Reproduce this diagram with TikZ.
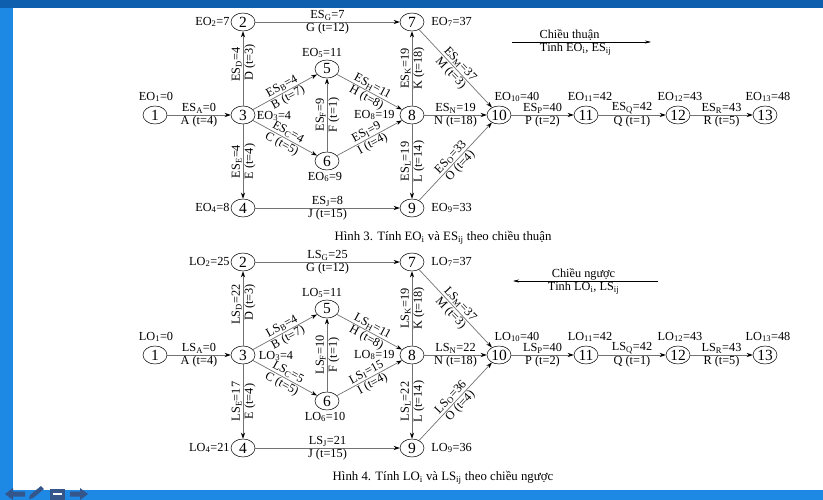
\documentclass[tikz,border=0pt]{standalone}
\usepackage{fontspec}
\setmainfont{Liberation Serif}
\usetikzlibrary{shapes.geometric,arrows.meta,positioning}
\newcommand\sbs[1]{\textsubscript{#1}}
\tikzset{
 nd/.style={ellipse, draw=black, line width=0.5pt, minimum width=24pt, minimum height=18pt, inner sep=0.2pt, font=\fontsize{15.5}{15.5}\selectfont},
 ed/.style={draw=black!55, line width=0.7pt, -{Stealth[length=6pt,width=4pt,color=black]}},
 edr/.style={draw=black!55, line width=0.7pt, {Stealth[length=6pt,width=4pt,color=black]}-},
 lab/.style={font=\fontsize{12.3}{12.5}\selectfont, inner sep=1pt},
 val/.style={font=\fontsize{12.3}{12.5}\selectfont, inner sep=1pt},
 captext/.style={font=\fontsize{12.8}{13}\selectfont, inner sep=0pt},
 dirline/.style={draw=black, line width=0.6pt},
 icon/.style={fill=navyicon, draw=none},
}
\definecolor{topbar}{HTML}{0F5FAF}
\definecolor{sidebar}{HTML}{1E88E5}
\definecolor{navyicon}{HTML}{34568B}
\begin{document}
\begin{tikzpicture}[x=1pt,y=-1pt]
\useasboundingbox (0,0) rectangle (823,500);
\fill[white] (0,0) rectangle (823,500);
% frame
\fill[topbar] (0,0) rectangle (823,8);
\fill[sidebar] (0,8) rectangle (13,490);
\fill[sidebar] (0,490) rectangle (823,500);
% nav icons
\fill[icon] (5,494) -- (13,488) -- (13,491.5) -- (25,491.5) -- (25,496.5) -- (13,496.5) -- (13,500) -- cycle;
\fill[icon] (29,499) -- (30,495) -- (41,486) -- (44,489) -- (33,498) -- cycle;
\fill[icon] (50,489) rectangle (65,500);
\fill[white] (53,493) rectangle (62,494.5);
\fill[icon] (88,494) -- (80,488) -- (80,491.5) -- (70,491.5) -- (70,496.5) -- (80,496.5) -- (80,500) -- cycle;

% ================= TOP DIAGRAM =================
\node[nd] (a1) at (155,115) {1};
\node[nd] (a2) at (243,22) {2};
\node[nd] (a3) at (243,115) {3};
\node[nd] (a4) at (243,208) {4};
\node[nd] (a5) at (327,69) {5};
\node[nd] (a6) at (327,161) {6};
\node[nd] (a7) at (412,22) {7};
\node[nd] (a8) at (412,115) {8};
\node[nd] (a9) at (412,208) {9};
\node[nd] (a10) at (499,115) {10};
\node[nd] (a11) at (586,115) {11};
\node[nd] (a12) at (678,115) {12};
\node[nd] (a13) at (765,115) {13};

\node[val] (ea1) at (156,97) {EO\sbs{1}=0};
\node[val,left=0pt of a2] (ea2) {EO\sbs{2}=7};
\node[val] (ea3) at (274,116) {EO\sbs{3}=4};
\node[val,left=0pt of a4] (ea4) {EO\sbs{4}=8};
\node[val] (ea5) at (322,53) {EO\sbs{5}=11};
\node[val] (ea6) at (325,177) {EO\sbs{6}=9};
\node[val,right=6pt of a7] (ea7) {EO\sbs{7}=37};
\node[val,left=4pt of a8] (ea8) {EO\sbs{8}=19};
\node[val,right=6pt of a9] (ea9) {EO\sbs{9}=33};
\node[val] (ea10) at (517,97) {EO\sbs{10}=40};
\node[val] (ea11) at (590,97) {EO\sbs{11}=42};
\node[val] (ea12) at (680,97) {EO\sbs{12}=43};
\node[val] (ea13) at (768,97) {EO\sbs{13}=48};

\draw[ed] (a1) -- node[lab,above]{ES\sbs{A}=0} node[lab,below]{A (t=4)} (a3);
\draw[ed] (a3) -- node[lab,sloped,above,pos=0.55]{ES\sbs{D}=4} node[lab,sloped,below,pos=0.58]{D (t=3)} (a2);
\draw[ed] (a2) -- node[lab,above]{ES\sbs{G}=7} node[lab,below]{G (t=12)} (a7);
\draw[ed] (a3) -- node[lab,sloped,above]{ES\sbs{B}=4} node[lab,sloped,below]{B (t=7)} (a5);
\draw[ed] (a3) -- node[lab,sloped,above]{ES\sbs{C}=4} node[lab,sloped,below]{C (t=5)} (a6);
\draw[edr] (a4) -- node[lab,sloped,above]{ES\sbs{E}=4} node[lab,sloped,below]{E (t=4)} (a3);
\draw[ed] (a6) -- node[lab,sloped,above]{ES\sbs{F}=9} node[lab,sloped,below]{F (t=1)} (a5);
\draw[ed] (a5) -- node[lab,sloped,above]{ES\sbs{H}=11} node[lab,sloped,below]{H (t=8)} (a8);
\draw[ed] (a6) -- node[lab,sloped,above]{ES\sbs{I}=9} node[lab,sloped,below]{I (t=4)} (a8);
\draw[ed] (a8) -- node[lab,sloped,above]{ES\sbs{K}=19} node[lab,sloped,below]{K (t=18)} (a7);
\draw[ed] (a8) -- node[lab,above]{ES\sbs{N}=19} node[lab,below]{N (t=18)} (a10);
\draw[edr] (a9) -- node[lab,sloped,above]{ES\sbs{L}=19} node[lab,sloped,below]{L (t=14)} (a8);
\draw[ed] (a7) -- node[lab,sloped,above]{ES\sbs{M}=37} node[lab,sloped,below]{M (t=3)} (a10);
\draw[ed] (a9) -- node[lab,sloped,above]{ES\sbs{O}=33} node[lab,sloped,below]{O (t=4)} (a10);
\draw[ed] (a4) -- node[lab,above]{ES\sbs{J}=8} node[lab,below]{J (t=15)} (a9);
\draw[ed] (a10) -- node[lab,above]{ES\sbs{P}=40} node[lab,below]{P (t=2)} (a11);
\draw[ed] (a11) -- node[lab,above]{ES\sbs{Q}=42} node[lab,below]{Q (t=1)} (a12);
\draw[ed] (a12) -- node[lab,above]{ES\sbs{R}=43} node[lab,below]{R (t=5)} (a13);

\coordinate (ta) at (512,42);
\coordinate (tb) at (651,42);
\draw[dirline,-{Stealth[length=6pt,width=3pt]}] (ta) -- node[lab,above,xshift=-12pt]{Chiều thuận} node[lab,below,xshift=-6pt]{Tính EO\sbs{i}, ES\sbs{ij}} (tb);

\node[captext] (cap3) at (443,238) {Hình 3. Tính EO\sbs{i} và ES\sbs{ij} theo chiều thuận};

% ================= BOTTOM DIAGRAM =================
\begin{scope}[shift={(0,240)}]
\node[nd] (b1) at (155,115) {1};
\node[nd] (b2) at (243,22) {2};
\node[nd] (b3) at (243,115) {3};
\node[nd] (b4) at (243,208) {4};
\node[nd] (b5) at (327,69) {5};
\node[nd] (b6) at (327,161) {6};
\node[nd] (b7) at (412,22) {7};
\node[nd] (b8) at (412,115) {8};
\node[nd] (b9) at (412,208) {9};
\node[nd] (b10) at (499,115) {10};
\node[nd] (b11) at (586,115) {11};
\node[nd] (b12) at (678,115) {12};
\node[nd] (b13) at (765,115) {13};

\node[val] (lb1) at (156,97) {LO\sbs{1}=0};
\node[val,left=0pt of b2] (lb2) {LO\sbs{2}=25};
\node[val] (lb3) at (276,116) {LO\sbs{3}=4};
\node[val,left=0pt of b4] (lb4) {LO\sbs{4}=21};
\node[val] (lb5) at (322,53) {LO\sbs{5}=11};
\node[val] (lb6) at (325,177) {LO\sbs{6}=10};
\node[val,right=6pt of b7] (lb7) {LO\sbs{7}=37};
\node[val,left=4pt of b8] (lb8) {LO\sbs{8}=19};
\node[val,right=6pt of b9] (lb9) {LO\sbs{9}=36};
\node[val] (lb10) at (517,97) {LO\sbs{10}=40};
\node[val] (lb11) at (590,97) {LO\sbs{11}=42};
\node[val] (lb12) at (680,97) {LO\sbs{12}=43};
\node[val] (lb13) at (768,97) {LO\sbs{13}=48};

\draw[ed] (b1) -- node[lab,above]{LS\sbs{A}=0} node[lab,below]{A (t=4)} (b3);
\draw[ed] (b3) -- node[lab,sloped,above,pos=0.55]{LS\sbs{D}=22} node[lab,sloped,below,pos=0.58]{D (t=3)} (b2);
\draw[ed] (b2) -- node[lab,above]{LS\sbs{G}=25} node[lab,below]{G (t=12)} (b7);
\draw[ed] (b3) -- node[lab,sloped,above]{LS\sbs{B}=4} node[lab,sloped,below]{B (t=7)} (b5);
\draw[ed] (b3) -- node[lab,sloped,above]{LS\sbs{C}=5} node[lab,sloped,below]{C (t=5)} (b6);
\draw[edr] (b4) -- node[lab,sloped,above]{LS\sbs{E}=17} node[lab,sloped,below]{E (t=4)} (b3);
\draw[ed] (b6) -- node[lab,sloped,above]{LS\sbs{F}=10} node[lab,sloped,below]{F (t=1)} (b5);
\draw[ed] (b5) -- node[lab,sloped,above]{LS\sbs{H}=11} node[lab,sloped,below]{H (t=8)} (b8);
\draw[ed] (b6) -- node[lab,sloped,above]{LS\sbs{I}=15} node[lab,sloped,below]{I (t=4)} (b8);
\draw[ed] (b8) -- node[lab,sloped,above]{LS\sbs{K}=19} node[lab,sloped,below]{K (t=18)} (b7);
\draw[ed] (b8) -- node[lab,above]{LS\sbs{N}=22} node[lab,below]{N (t=18)} (b10);
\draw[edr] (b9) -- node[lab,sloped,above]{LS\sbs{L}=22} node[lab,sloped,below]{L (t=14)} (b8);
\draw[ed] (b7) -- node[lab,sloped,above]{LS\sbs{M}=37} node[lab,sloped,below]{M (t=3)} (b10);
\draw[ed] (b9) -- node[lab,sloped,above]{LS\sbs{O}=36} node[lab,sloped,below]{O (t=4)} (b10);
\draw[ed] (b4) -- node[lab,above]{LS\sbs{J}=21} node[lab,below]{J (t=15)} (b9);
\draw[ed] (b10) -- node[lab,above]{LS\sbs{P}=40} node[lab,below]{P (t=2)} (b11);
\draw[ed] (b11) -- node[lab,above]{LS\sbs{Q}=42} node[lab,below]{Q (t=1)} (b12);
\draw[ed] (b12) -- node[lab,above]{LS\sbs{R}=43} node[lab,below]{R (t=5)} (b13);

\coordinate (ba) at (658,41);
\coordinate (bb) at (513,41);
\draw[dirline,-{Stealth[length=6pt,width=3pt]}] (ba) -- node[lab,above,xshift=-2pt]{Chiều ngược} node[lab,below,xshift=-2pt]{Tính LO\sbs{i}, LS\sbs{ij}} (bb);

\node[captext] (cap4) at (443,238) {Hình 4. Tính LO\sbs{i} và LS\sbs{ij} theo chiều ngược};
\end{scope}
\end{tikzpicture}
\end{document}
